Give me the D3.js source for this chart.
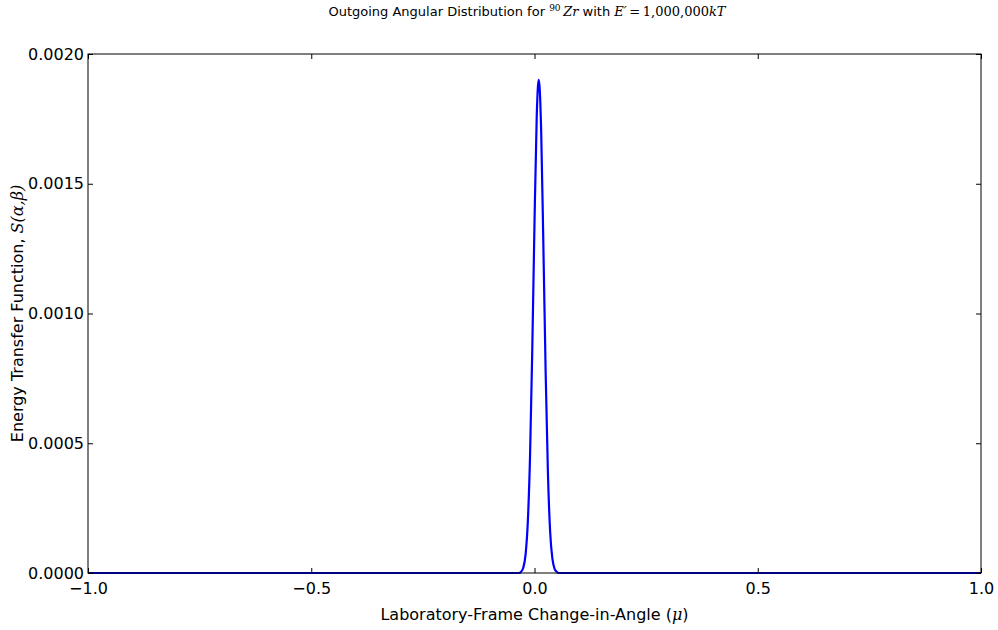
<!DOCTYPE html>
<html>
<head>
<meta charset="utf-8">
<script src="https://cdn.jsdelivr.net/npm/d3@7"></script>
<style>
  body { margin: 0; background: #fff; }
  text { font-family: "DejaVu Sans", sans-serif; }
  .math { font-family: "DejaVu Serif", "Liberation Serif", serif; font-style: italic; }
  .mathr { font-family: "DejaVu Serif", "Liberation Serif", serif; }
</style>
</head>
<body>
<div id="chart"></div>
<script>
// values
const mu = [-1.0, -0.035, -0.03, -0.025, -0.02, -0.015, -0.01, -0.005, 0.0, 0.005, 0.0075, 0.0095, 0.0115, 0.015, 0.02, 0.025, 0.03, 0.035, 0.04, 0.045, 0.05, 0.055, 1.0];
const S  = [0, 0, 0.000005, 0.000021, 0.000071, 0.000196, 0.00045, 0.00086, 0.00135, 0.00176, 0.00187, 0.0019, 0.00187, 0.0017, 0.00125, 0.00077, 0.00039, 0.00016, 0.000056, 0.000016, 0.000004, 0, 0];
const xTicks = [-1.0, -0.5, 0.0, 0.5, 1.0];
const yTicks = [0.0, 0.0005, 0.0010, 0.0015, 0.0020];

const W = 998, H = 630;
const margin = {top: 54, right: 17, bottom: 57, left: 88};
const width = W - margin.left - margin.right,
      height = H - margin.top - margin.bottom;

const svg = d3.select("#chart").append("svg")
  .attr("width", W).attr("height", H);

const g = svg.append("g")
  .attr("transform", "translate(" + margin.left + "," + margin.top + ")");

const x = d3.scaleLinear().domain([-1, 1]).range([0, width]);
const y = d3.scaleLinear().domain([0, 0.002]).range([height, 0]);

const data = mu.map((m, i) => ({mu: m, s: S[i]}));

// curve
g.append("path")
  .datum(data)
  .attr("fill", "none")
  .attr("stroke", "#0000ff")
  .attr("stroke-width", 2.2)
  .attr("stroke-linejoin", "round")
  .attr("d", d3.line().x(d => x(d.mu)).y(d => y(d.s)).curve(d3.curveMonotoneX));

// ticks inside, all four sides (matplotlib classic)
const minus = v => d3.format(".1f")(v).replace("-", "\u2212");
g.append("g").attr("transform", "translate(0," + height + ")")
  .call(d3.axisBottom(x).tickValues(xTicks).tickSizeInner(-5).tickSizeOuter(0).tickPadding(10).tickFormat(minus))
  .call(a => a.select(".domain").remove());
g.append("g")
  .call(d3.axisTop(x).tickValues(xTicks).tickSizeInner(-5).tickSizeOuter(0).tickFormat(""))
  .call(a => a.select(".domain").remove());
g.append("g")
  .call(d3.axisLeft(y).tickValues(yTicks).tickSizeInner(-5).tickSizeOuter(0).tickPadding(4).tickFormat(d3.format(".4f")))
  .call(a => a.select(".domain").remove());
g.append("g").attr("transform", "translate(" + width + ",0)")
  .call(d3.axisRight(y).tickValues(yTicks).tickSizeInner(-5).tickSizeOuter(0).tickFormat(""))
  .call(a => a.select(".domain").remove());

g.selectAll(".tick text").style("font-size", "16px").attr("fill", "#000");
g.selectAll(".tick line").attr("stroke", "#000");

// frame
g.append("rect")
  .attr("x", 0).attr("y", 0).attr("width", width).attr("height", height)
  .attr("fill", "none").attr("stroke", "#000").attr("stroke-width", 1);

// title
const t = svg.append("text")
  .attr("x", 527).attr("y", 16)
  .attr("text-anchor", "middle")
  .style("font-size", "13px");
t.append("tspan").text("Outgoing Angular Distribution for ");
t.append("tspan").attr("class", "mathr").attr("dy", -5).style("font-size", "9px").text("90");
t.append("tspan").attr("class", "math").attr("dy", 5).text("\u2009Zr");
t.append("tspan").text(" with ");
t.append("tspan").attr("class", "math").text("E\u2032");
t.append("tspan").attr("class", "mathr").text("\u2009=\u20091,000,000");
t.append("tspan").attr("class", "math").text("kT");

// x label
const xl = svg.append("text")
  .attr("x", margin.left + width / 2).attr("y", 620)
  .attr("text-anchor", "middle")
  .style("font-size", "16px");
xl.append("tspan").text("Laboratory-Frame Change-in-Angle (");
xl.append("tspan").attr("class", "math").text("\u03bc");
xl.append("tspan").text(")");

// y label
const yl = svg.append("text")
  .attr("transform", "translate(23," + (margin.top + height / 2) + ") rotate(-90)")
  .attr("text-anchor", "middle")
  .style("font-size", "16px");
yl.append("tspan").text("Energy Transfer Function, ");
yl.append("tspan").attr("class", "math").text("S(\u03b1,\u03b2)");
</script>
</body>
</html>
